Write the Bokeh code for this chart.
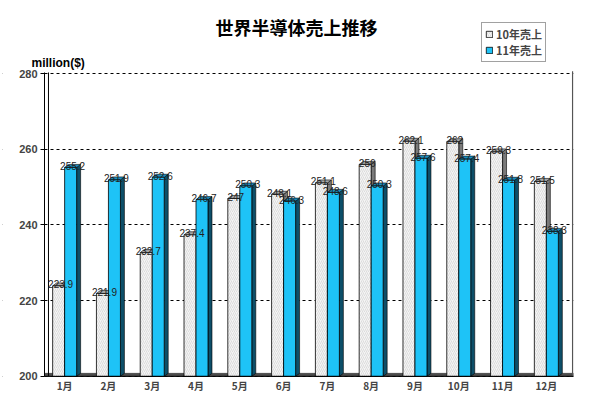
import numpy as np
from bokeh.plotting import figure
from bokeh.models import (Range1d, FixedTicker, Label, Legend, LegendItem,
                          ColumnDataSource)
from bokeh.core.properties import value
from bokeh.embed import file_html
from bokeh.resources import INLINE

# ---------------- data ----------------
months = ["1月", "2月", "3月", "4月", "5月", "6月",
          "7月", "8月", "9月", "10月", "11月", "12月"]
sales10 = [223.9, 221.9, 232.7, 237.4, 247.0, 248.1,
           251.1, 256.0, 262.1, 262.0, 259.3, 251.5]
sales11 = [255.2, 251.9, 252.6, 246.7, 250.3, 246.3,
           248.6, 250.3, 257.6, 257.4, 251.8, 238.3]
y_ticks = [200, 220, 240, 260, 280]
series_names = ["10年売上", "11年売上"]
title_text = "世界半導体売上推移"
unit_text = "million($)"

# ---------------- style ----------------
JP = "Noto Sans CJK JP"
LAT = "Liberation Sans"
BAR_W = 0.274
DX = 0.091   # 3D depth in x units
DY = 0.8     # 3D depth in y units
BASE = 200
Y_TOP = 280.3
X0, X1 = 0.54, 12.62
XL = -0.419   # extra room at the left for tick labels and unit text

x = np.arange(1, len(months) + 1, dtype=float)

p = figure(width=584, height=393, output_backend="svg", toolbar_location=None,
           x_range=Range1d(XL, X1), y_range=Range1d(196, 297.2),
           min_border_left=2, min_border_right=11, min_border_top=8,
           min_border_bottom=2)
p.outline_line_color = None
p.background_fill_color = "white"
p.border_fill_color = "white"

# white mask left of the axis (hides grid lines there)
p.quad(left=[XL], right=[X0], bottom=[195], top=[Y_TOP + 1],
       fill_color="white", line_color=None)

# floor strip
p.quad(left=[X0], right=[X1], bottom=[BASE], top=[BASE + DY],
       fill_color="#4d4d4d", line_color="#222222", line_width=0.5)

# walls
p.segment(x0=[X0 + DX, 12.6], y0=[BASE, BASE], x1=[X0 + DX, 12.6],
          y1=[Y_TOP, Y_TOP + 0.3], line_color=["black", "#555555"],
          line_width=[1, 1.3])


def bars3d(lefts, vals, front, side, top, hatch=False):
    rights = lefts + BAR_W
    vals = np.asarray(vals, dtype=float)
    sx = [[r, r + DX, r + DX, r] for r in rights]
    sy = [[BASE, BASE + DY, v + DY, v] for v in vals]
    p.patches(sx, sy, fill_color=side, line_color="black", line_width=0.6)
    tx = [[l, l + DX, r + DX, r] for l, r in zip(lefts, rights)]
    ty = [[v, v + DY, v + DY, v] for v in vals]
    p.patches(tx, ty, fill_color=top, line_color="black", line_width=0.6)
    kw = dict(fill_color=front, line_color="black", line_width=0.8)
    if hatch:
        kw.update(hatch_pattern="/", hatch_color="#c4c4c4", hatch_scale=4,
                  hatch_weight=0.5)
    return p.quad(left=lefts, right=rights, bottom=BASE, top=vals, **kw)


r10 = bars3d(x - BAR_W, sales10, "#f4f4f4", "#7a7a7a", "#a8a8a8", hatch=True)
r11 = bars3d(x, sales11, "#1ec3f7", "#0d4f69", "#1a8fbf")


def fmt(v):
    return f"{v:g}"


src10 = ColumnDataSource(dict(x=x - BAR_W / 2 + DX / 2,
                              y=np.array(sales10) + DY / 2,
                              t=[fmt(v) for v in sales10]))
src11 = ColumnDataSource(dict(x=x + BAR_W / 2 + DX / 2,
                              y=np.array(sales11) + DY / 2,
                              t=[fmt(v) for v in sales11]))
for s in (src10, src11):
    p.text(x="x", y="y", text="t", source=s, text_font=value(LAT),
           text_font_size="10px", text_align="center", text_baseline="middle",
           text_color="#222222")

# axes
p.xaxis.fixed_location = BASE
p.xaxis.ticker = FixedTicker(ticks=list(x))
p.xaxis.major_label_overrides = {int(i): m for i, m in zip(x, months)}
p.xaxis.major_tick_out = 0
p.xaxis.major_tick_in = 0
p.xaxis.minor_tick_line_color = None
p.xaxis.axis_line_color = None
p.xaxis.major_label_text_font = JP
p.xaxis.major_label_text_font_style = "bold"
p.xaxis.major_label_text_font_size = "10px"
p.xaxis.major_label_standoff = 2

p.yaxis.fixed_location = X0
p.yaxis.ticker = FixedTicker(ticks=y_ticks)
p.yaxis.bounds = (200, Y_TOP)
p.yaxis.minor_tick_line_color = None
p.yaxis.major_tick_out = 4
p.yaxis.major_tick_in = 0
p.yaxis.axis_line_color = "black"
p.yaxis.major_label_text_font = LAT
p.yaxis.major_label_text_font_style = "bold"
p.yaxis.major_label_text_font_size = "11px"
p.yaxis.major_label_standoff = 3

p.xgrid.grid_line_color = None
p.ygrid.grid_line_color = "black"
p.ygrid.grid_line_dash = "3 3"
p.ygrid.grid_line_width = 1.2

# x base line (from the axis wall to the right)
p.segment(x0=[X0], y0=[BASE], x1=[X1], y1=[BASE], line_color="black",
          line_width=1)

# title & unit (screen offsets from the frame's bottom-left corner)
p.add_layout(Label(x=294, y=365, x_units="screen", y_units="screen",
                   text=title_text, text_font=JP, text_font_style="bold",
                   text_font_size="18px", text_align="center",
                   text_baseline="middle", text_color="black"))
p.add_layout(Label(x=29, y=329, x_units="screen", y_units="screen",
                   text=unit_text, text_font=LAT, text_font_style="bold",
                   text_font_size="12px", text_align="left",
                   text_baseline="middle", text_color="black"))

legend = Legend(items=[LegendItem(label=series_names[0], renderers=[r10]),
                       LegendItem(label=series_names[1], renderers=[r11])],
                location=(479, 329))
legend.label_text_font = JP
legend.label_text_font_style = "bold"
legend.label_text_font_size = "11px"
legend.glyph_width = 8
legend.glyph_height = 8
legend.label_height = 10
legend.spacing = 0
legend.padding = 3
legend.margin = 0
legend.label_standoff = 3
legend.border_line_color = "#444444"
legend.border_line_width = 1
legend.background_fill_alpha = 1
p.add_layout(legend)

open("out.html", "w").write(file_html(p, INLINE))
